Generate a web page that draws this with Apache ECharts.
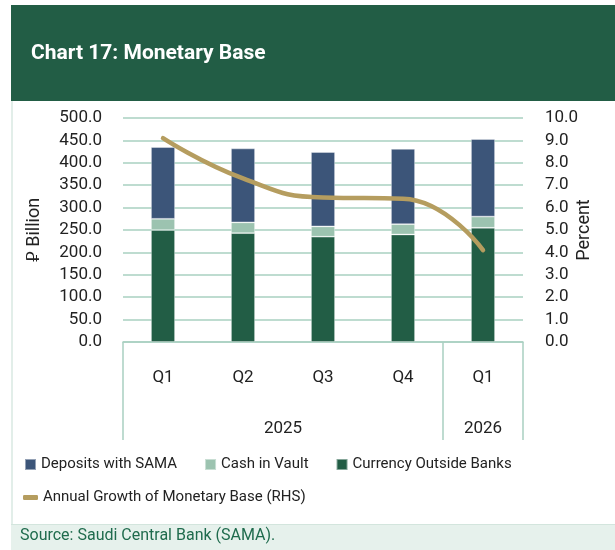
<!DOCTYPE html>
<html>
<head>
<meta charset="utf-8">
<script src="https://cdn.jsdelivr.net/npm/echarts@6/dist/echarts.min.js"></script>
<style>
  html, body { margin: 0; padding: 0; background: #fff; }
  #chart { width: 615px; height: 550px; }
</style>
</head>
<body>
<div id="chart"></div>
<script>
const quarters = ['Q1', 'Q2', 'Q3', 'Q4', 'Q1']
const currencyOutside = [250, 243, 235, 240, 255]
const cashInVault = [25, 24, 23, 23, 25]
const depositsSama = [160, 165, 166, 168, 173]
const growth = [9.1, 7.3, 6.45, 6.4, 4.1]

const FONT = 'Roboto, "DejaVu Sans", sans-serif'
const GRIDLINE = '#a9d0c1'

const chart = echarts.init(document.getElementById('chart'))

chart.setOption({
  animation: false,
  textStyle: { fontFamily: FONT },
  graphic: [
    { type: 'rect', shape: { x: 11, y: 5, width: 604, height: 96 }, style: { fill: '#225d45' } },
    {
      type: 'text', left: 31, top: 43,
      style: { text: 'Chart 17: Monetary Base', fill: '#fff', font: 'bold 21px Roboto, sans-serif' }
    },
    { type: 'rect', shape: { x: 11, y: 101, width: 2, height: 424 }, style: { fill: '#e2eee9' } },
    { type: 'rect', shape: { x: 11, y: 524, width: 604, height: 26 }, style: { fill: '#e6f1ec' } },
    { type: 'rect', shape: { x: 11, y: 524, width: 604, height: 1 }, style: { fill: '#d3e5dd' } },
    {
      type: 'text', left: 20, top: 528,
      style: { text: 'Source: Saudi Central Bank (SAMA).', fill: '#1f6b4d', font: '16px ' + FONT }
    }
  ],
  grid: { left: 123, right: 92, top: 118, bottom: 208 },
  legend: [
    {
      left: 19, top: 452, itemWidth: 11, itemHeight: 11, itemGap: 27,
      textStyle: { fontSize: 15, color: '#222' },
      data: [
        { name: 'Deposits with SAMA', icon: 'rect' },
        { name: 'Cash in Vault', icon: 'rect' },
        { name: 'Currency Outside Banks', icon: 'rect' }
      ]
    },
    {
      left: 18, top: 485, itemWidth: 15, itemHeight: 5,
      textStyle: { fontSize: 15, color: '#222' },
      data: [{ name: 'Annual Growth of Monetary Base (RHS)', icon: 'roundRect' }]
    }
  ],
  xAxis: [
    {
      type: 'category',
      data: quarters,
      axisLine: { lineStyle: { color: GRIDLINE, width: 1.5 } },
      axisTick: { show: false },
      axisLabel: { color: '#222', fontSize: 17, margin: 27 }
    },
    {
      type: 'value',
      min: 0, max: 5,
      position: 'bottom',
      axisLine: { show: false },
      splitLine: { show: false },
      axisTick: {
        show: true, length: 98,
        customValues: [0, 4, 5],
        lineStyle: { color: GRIDLINE, width: 1.5 }
      },
      axisLabel: {
        margin: 78, color: '#222', fontSize: 17,
        customValues: [2, 4.5],
        formatter: (v) => (v === 2 ? '2025' : '2026')
      }
    }
  ],
  yAxis: [
    {
      type: 'value',
      min: 0, max: 500, interval: 50,
      name: '\u20C1 Billion',
      nameLocation: 'middle',
      nameGap: 80,
      nameMoveOverlap: false,
      nameTextStyle: { fontSize: 18, color: '#222' },
      axisLine: { show: false },
      axisTick: { show: false },
      axisLabel: { color: '#222', fontSize: 17, margin: 21, formatter: (v) => v.toFixed(1) },
      splitLine: { lineStyle: { color: GRIDLINE, width: 1.5 } }
    },
    {
      type: 'value',
      min: 0, max: 10, interval: 1,
      name: 'Percent',
      nameLocation: 'middle',
      nameGap: 52,
      nameMoveOverlap: false,
      nameTextStyle: { fontSize: 18, color: '#222' },
      axisLine: { show: false },
      axisTick: { show: false },
      axisLabel: { color: '#222', fontSize: 17, margin: 22, formatter: (v) => v.toFixed(1) },
      splitLine: { show: false }
    }
  ],
  series: [
    {
      name: 'Currency Outside Banks', type: 'bar', stack: 'mb', barWidth: 24,
      itemStyle: { color: '#225d45', borderColor: 'rgba(255,255,255,0.45)', borderWidth: 0.8 },
      data: currencyOutside
    },
    {
      name: 'Cash in Vault', type: 'bar', stack: 'mb', barWidth: 24,
      itemStyle: { color: '#9cc3b0', borderColor: 'rgba(255,255,255,0.45)', borderWidth: 0.8 },
      data: cashInVault
    },
    {
      name: 'Deposits with SAMA', type: 'bar', stack: 'mb', barWidth: 24,
      itemStyle: { color: '#3c5579', borderColor: 'rgba(255,255,255,0.45)', borderWidth: 0.8 },
      data: depositsSama
    },
    {
      name: 'Annual Growth of Monetary Base (RHS)', type: 'line', yAxisIndex: 1,
      smooth: 0.5, showSymbol: false,
      lineStyle: { color: '#b59d5f', width: 4.5, cap: 'round' },
      itemStyle: { color: '#b59d5f' },
      data: growth
    }
  ]
})
</script>
</body>
</html>
